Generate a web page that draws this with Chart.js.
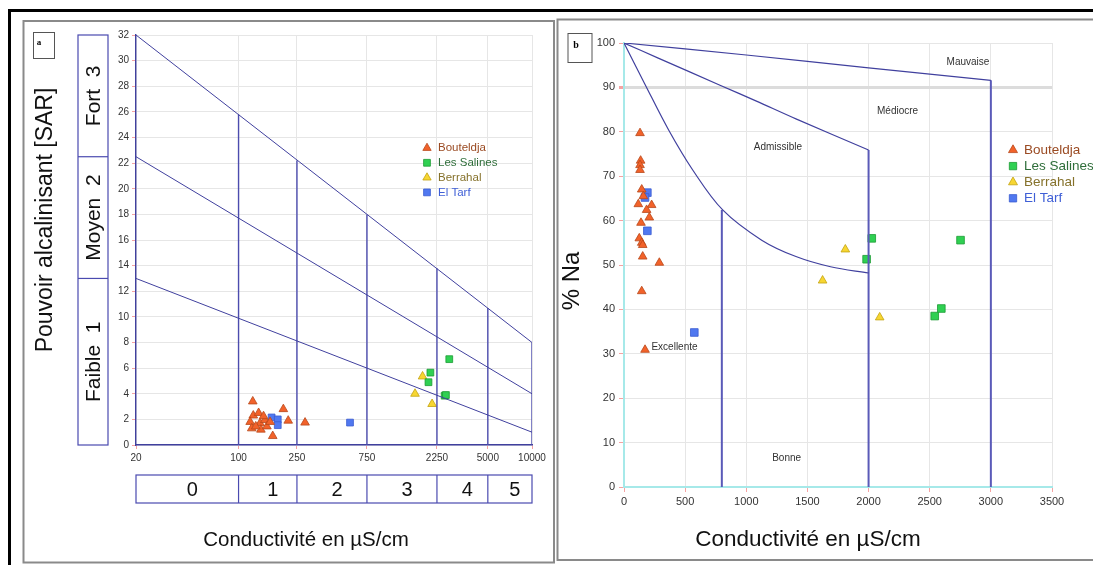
<!DOCTYPE html>
<html>
<head>
<meta charset="utf-8">
<script src="https://cdn.jsdelivr.net/npm/chart.js@4.4.1/dist/chart.umd.min.js"></script>
<style>
  body { margin: 0; background: #fff; width: 1093px; height: 565px; overflow: hidden; position: relative; }
  canvas { position: absolute; top: 0; }
  #sar { left: 0; }
  #wil { left: 556px; }
</style>
</head>
<body>
<canvas id="sar" width="556" height="565"></canvas>
<canvas id="wil" width="537" height="565"></canvas>
<script>
// ---- Riverside diagram (SAR vs conductivity) ----
const ecTicks = [20, 100, 250, 750, 2250, 5000, 10000];
const ecClassLabels = ['0', '1', '2', '3', '4', '5'];
const sarClassBreaks = [0, 13, 22.5, 32];
const sarClassLabels = ['Faible  1', 'Moyen  2', 'Fort  3'];

// class boundaries of the diagram
const sarLineHigh = [[20, 32], [10000, 8]];
const sarLineMid = [[20, 22.5], [10000, 4]];
const sarLineLow = [[20, 13], [10000, 1]];
const ecBoundaries = [100, 250, 750, 2250, 5000, 10000];
const ecBoundaryTops = [25.8, 22.2, 18.0, 13.8, 10.7, 8];

const bouteldjaSar = [[125, 3.4], [126, 2.3], [137, 2.5], [120, 1.8], [123, 1.3], [140, 1.7], [151, 1.95],
  [142, 1.2], [156, 1.45], [164, 1.8], [202, 2.8], [218, 1.9], [171, 0.7], [284, 1.75], [131, 1.45], [148, 2.25]];
const salinesSar = [[2730, 6.7], [2030, 5.65], [1970, 4.9], [2540, 3.85], [2590, 3.9]];
const berrahalSar = [[1795, 5.35], [1595, 4.0], [2085, 3.2]];
const elTarfSar = [[168, 2.15], [185, 2.0], [185, 1.55], [575, 1.75]];

// ---- Wilcox diagram (% Na vs conductivity) ----
const wilTop = [[0, 100], [1000, 97.3], [2000, 94.4], [3000, 91.6]];
const wilMid = [[0, 100], [280, 96.6], [785, 90.5], [1083, 86.9], [1406, 82.9], [2000, 75.9]];
const wilLow = [[0, 100], [168, 90.9], [365, 80.4], [562, 71.4], [807, 62.4], [1126, 55.6], [1406, 51.9], [1689, 49.6], [2000, 48.2]];
const wilVert800 = [[800, 62.4], [800, 0]];
const wilVert2000 = [[2000, 75.9], [2000, 0]];
const wilVert3000 = [[3000, 91.6], [3000, 0]];
const wilZones = [['Mauvaise', 2813, 95.6], ['Médiocre', 2237, 84.7], ['Admissible', 1259, 76.6], ['Excellente', 413, 31.5], ['Bonne', 1330, 6.5]];

const bouteldjaNa = [[131, 79.7], [136, 73.5], [131, 72.5], [131, 71.4], [145, 67], [158, 65.5], [117, 63.7], [226, 63.5],
  [185, 62.4], [207, 60.7], [139, 59.5], [125, 56], [145, 55], [153, 54.5], [153, 51.9], [289, 50.5], [145, 44.1], [172, 30.9]];
const salinesNa = [[2026, 56], [1984, 51.3], [2752, 55.6], [2541, 38.5], [2595, 40.2]];
const berrahalNa = [[1810, 53.5], [1624, 46.5], [2091, 38.2]];
const elTarfNa = [[191, 66.3], [172, 65.2], [191, 57.7], [575, 34.8]];

const stations = [
  { name: 'Bouteldja', style: 'triangle', fill: '#f2622a', edge: '#b8481a', text: '#9a4a22' },
  { name: 'Les Salines', style: 'rect', fill: '#2fd052', edge: '#1c9a34', text: '#2f6e3a' },
  { name: 'Berrahal', style: 'triangle', fill: '#f7d632', edge: '#c4a310', text: '#85712a' },
  { name: 'El Tarf', style: 'rect', fill: '#5078f0', edge: '#3a5cd0', text: '#3f5fd6' }
];

const NAVY = '#40409e';
const FONT = '"Liberation Sans", Arial, sans-serif';
const pts = a => a.map(([x, y]) => ({ x, y }));

function lineSet(a, width, color, tension) {
  return { type: 'line', data: pts(a), borderColor: color || NAVY, borderWidth: width || 1,
    pointRadius: 0, fill: false, tension: tension || 0 };
}
function pointSet(a, st, tri, sq) {
  return { type: 'scatter', data: pts(a), pointStyle: st.style, pointRadius: st.style === 'triangle' ? tri : sq,
    backgroundColor: st.fill, borderColor: st.edge, borderWidth: 0.8 };
}
function mark(ctx, st, x, y, r) {
  ctx.beginPath();
  if (st.style === 'triangle') {
    ctx.moveTo(x, y - r); ctx.lineTo(x + r * 0.866, y + r / 2); ctx.lineTo(x - r * 0.866, y + r / 2); ctx.closePath();
  } else {
    const h = r * Math.SQRT1_2; ctx.rect(x - h, y - h, 2 * h, 2 * h);
  }
  ctx.fillStyle = st.fill; ctx.fill();
  ctx.strokeStyle = st.edge; ctx.lineWidth = 0.8; ctx.stroke();
}
function vText(ctx, s, x, y, font) {
  ctx.save(); ctx.translate(x, y); ctx.rotate(-Math.PI / 2);
  ctx.font = font; ctx.textAlign = 'center'; ctx.textBaseline = 'middle'; ctx.fillText(s, 0, 0);
  ctx.restore();
}
function legend(ctx, x, y0, dy, r, font) {
  ctx.font = font; ctx.textAlign = 'left'; ctx.textBaseline = 'middle';
  stations.forEach((st, i) => {
    const y = y0 + i * dy;
    mark(ctx, st, x, y, r);
    ctx.fillStyle = st.text; ctx.fillText(st.name, x + 11, y);
  });
}

const sarDecor = {
  id: 'sarDecor',
  afterDraw(chart) {
    const { ctx, chartArea: ca, scales: { x, y } } = chart;
    ctx.save();
    ctx.fillStyle = '#000';
    ctx.fillRect(8, 9, 548, 3);
    ctx.fillRect(8, 9, 3, 556);
    ctx.strokeStyle = '#8a8a8a'; ctx.lineWidth = 2;
    ctx.strokeRect(23.5, 21, 530.5, 541.5);
    ctx.strokeStyle = '#555'; ctx.lineWidth = 1;
    ctx.strokeRect(33.5, 32.5, 21, 26);
    ctx.fillStyle = '#000'; ctx.font = 'bold 9px "Liberation Serif", serif';
    ctx.textAlign = 'center'; ctx.textBaseline = 'middle';
    ctx.fillText('a', 39, 43);

    // SAR classes on the left
    ctx.strokeStyle = '#4a4ab0'; ctx.lineWidth = 1.2;
    ctx.strokeRect(78, y.getPixelForValue(32), 30, y.getPixelForValue(0) - y.getPixelForValue(32));
    sarClassBreaks.slice(1, -1).forEach(v => {
      const py = y.getPixelForValue(v);
      ctx.beginPath(); ctx.moveTo(78, py); ctx.lineTo(108, py); ctx.stroke();
    });
    ctx.fillStyle = '#111';
    sarClassLabels.forEach((s, i) => {
      const cy = (y.getPixelForValue(sarClassBreaks[i]) + y.getPixelForValue(sarClassBreaks[i + 1])) / 2;
      vText(ctx, s, 94, cy, '21px ' + FONT);
    });
    vText(ctx, 'Pouvoir alcalinisant [SAR]', 46, 220, '23px ' + FONT);

    // conductivity classes underneath
    const top = 475, h = 28;
    ctx.strokeRect(ca.left, top, ca.right - ca.left, h);
    const edges = [20].concat(ecBoundaries);
    ecBoundaries.slice(0, -1).forEach(v => {
      const px = x.getPixelForValue(v);
      ctx.beginPath(); ctx.moveTo(px, top); ctx.lineTo(px, top + h); ctx.stroke();
    });
    ctx.font = '20px ' + FONT; ctx.textAlign = 'center'; ctx.textBaseline = 'middle';
    ecClassLabels.forEach((s, i) => {
      const cx = (x.getPixelForValue(edges[i]) + x.getPixelForValue(edges[i + 1])) / 2 + 5;
      ctx.fillText(s, cx, top + h / 2 + 1);
    });
    ctx.font = '20.5px ' + FONT;
    ctx.fillText('Conductivité en µS/cm', 306, 540);

    legend(ctx, 427, 148, 14.8, 4.8, '11.5px ' + FONT);
    ctx.restore();
  }
};

const wilDecor = {
  id: 'wilDecor',
  afterDraw(chart) {
    const { ctx, scales: { x, y } } = chart;
    ctx.save();
    ctx.fillStyle = '#000';
    ctx.fillRect(0, 9, 537, 3);
    ctx.strokeStyle = '#8a8a8a'; ctx.lineWidth = 2;
    ctx.beginPath();
    ctx.moveTo(540, 19.5); ctx.lineTo(1.5, 19.5); ctx.lineTo(1.5, 560); ctx.lineTo(540, 560);
    ctx.stroke();
    ctx.strokeStyle = '#555'; ctx.lineWidth = 1;
    ctx.strokeRect(12, 33.5, 24, 29);
    ctx.fillStyle = '#000'; ctx.font = 'bold 10px "Liberation Serif", serif';
    ctx.textAlign = 'center'; ctx.textBaseline = 'middle';
    ctx.fillText('b', 20, 45);

    ctx.fillStyle = '#333'; ctx.font = '10px ' + FONT;
    wilZones.forEach(([s, vx, vy]) => ctx.fillText(s, x.getPixelForValue(vx), y.getPixelForValue(vy)));

    ctx.fillStyle = '#111';
    vText(ctx, '% Na', 16, 281, '24px ' + FONT);
    ctx.font = '22.5px ' + FONT; ctx.textAlign = 'center';
    ctx.fillText('Conductivité en µS/cm', 252, 540);

    legend(ctx, 457, 150, 16.1, 5.2, '13.5px ' + FONT);
    ctx.restore();
  }
};

const tickFont = { family: FONT, size: 10 };

new Chart(document.getElementById('sar'), {
  type: 'scatter',
  data: {
    datasets: [
      lineSet(sarLineHigh), lineSet(sarLineMid), lineSet(sarLineLow),
      ...ecBoundaries.map((v, i) => lineSet([[v, 0], [v, ecBoundaryTops[i]]], 1.4, '#4c4cae')),
      pointSet(bouteldjaSar, stations[0], 5, 5),
      pointSet(salinesSar, stations[1], 5, 4.8),
      pointSet(berrahalSar, stations[2], 5, 4.8),
      pointSet(elTarfSar, stations[3], 5, 4.8)
    ]
  },
  options: {
    responsive: false, animation: false,
    layout: { padding: { left: 106, top: 35, right: 24, bottom: 100 } },
    plugins: { legend: { display: false }, tooltip: { enabled: false } },
    scales: {
      x: {
        type: 'logarithmic', min: 20, max: 10000,
        afterBuildTicks: s => { s.ticks = ecTicks.map(v => ({ value: v })); },
        afterFit: s => { s.height = 20; },
        ticks: { callback: v => String(v), font: tickFont, color: '#333', padding: 3, autoSkip: false, maxRotation: 0 },
        grid: { color: '#e6e6e6', tickColor: '#f5a3a3', tickLength: 4 },
        border: { color: NAVY, width: 1.4 }
      },
      y: {
        min: 0, max: 32,
        afterFit: s => { s.width = 30; },
        ticks: { stepSize: 2, font: tickFont, color: '#333', padding: 3, autoSkip: false },
        grid: { color: '#e6e6e6', tickColor: '#f5a3a3', tickLength: 4 },
        border: { color: NAVY, width: 1.4 }
      }
    }
  },
  plugins: [sarDecor]
});

new Chart(document.getElementById('wil'), {
  type: 'scatter',
  data: {
    datasets: [
      lineSet(wilTop, 1.2, NAVY, 0.3),
      lineSet(wilMid, 1.2, NAVY, 0.3),
      lineSet(wilLow, 1.2, NAVY, 0.35),
      lineSet(wilVert800, 2, '#5a5ab8'), lineSet(wilVert2000, 2, '#5a5ab8'), lineSet(wilVert3000, 2, '#5a5ab8'),
      pointSet(bouteldjaNa, stations[0], 5, 5),
      pointSet(salinesNa, stations[1], 5, 5.4),
      pointSet(berrahalNa, stations[2], 5, 5.4),
      pointSet(elTarfNa, stations[3], 5, 5.4)
    ]
  },
  options: {
    responsive: false, animation: false,
    layout: { padding: { left: 40, top: 43, right: 41, bottom: 58 } },
    plugins: { legend: { display: false }, tooltip: { enabled: false } },
    scales: {
      x: {
        type: 'linear', min: 0, max: 3500,
        afterFit: s => { s.height = 20; },
        ticks: { stepSize: 500, callback: v => String(v), font: { family: FONT, size: 11 }, color: '#333', padding: 3, maxRotation: 0 },
        grid: { color: '#e6e6e6', tickColor: '#f5a3a3', tickLength: 5 },
        border: { color: '#a6e9e9', width: 2 }
      },
      y: {
        min: 0, max: 100,
        afterFit: s => { s.width = 28; },
        ticks: { stepSize: 10, font: { family: FONT, size: 11 }, color: '#333', padding: 4 },
        grid: {
          color: ctx => (ctx.tick && ctx.tick.value === 90 ? '#dcdcdc' : '#e6e6e6'),
          lineWidth: ctx => (ctx.tick && ctx.tick.value === 90 ? 3 : 1),
          tickColor: '#f5a3a3', tickLength: 5
        },
        border: { color: '#a6e9e9', width: 2 }
      }
    }
  },
  plugins: [wilDecor]
});
</script>
</body>
</html>
